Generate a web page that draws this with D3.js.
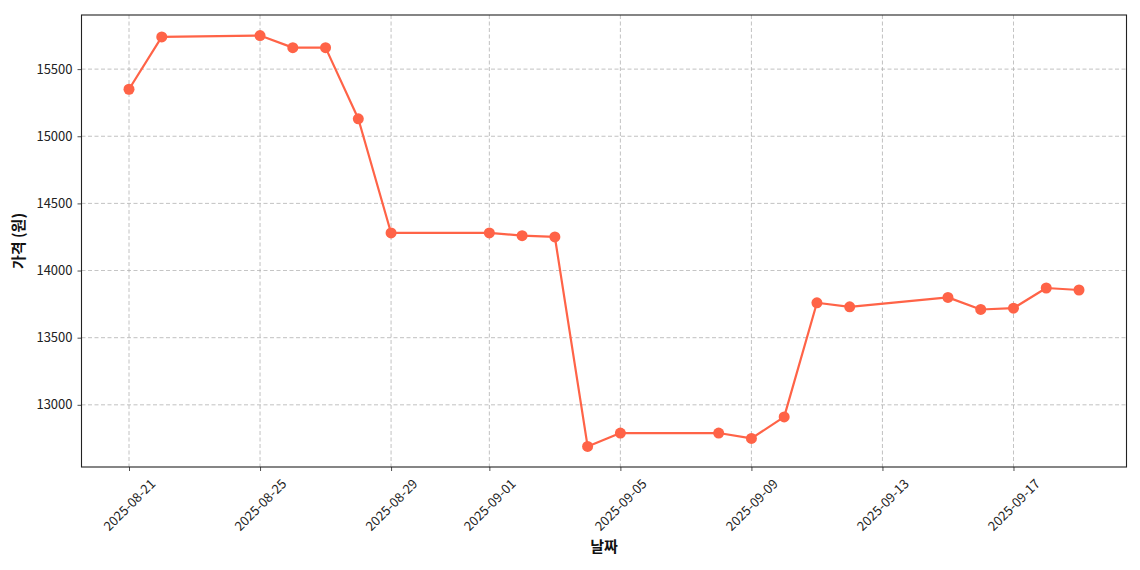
<!DOCTYPE html>
<html><head><meta charset="utf-8">
<script src="https://cdn.jsdelivr.net/npm/d3@7"></script>
<style>body{margin:0;background:#fff;} text{font-family:"Noto Sans CJK KR","Noto Sans",sans-serif;}</style>
</head><body><svg id="c" width="1140" height="570"></svg>
<script>
const dates = ["2025-08-21","2025-08-22","2025-08-25","2025-08-26","2025-08-27","2025-08-28","2025-08-29","2025-09-01","2025-09-02","2025-09-03","2025-09-04","2025-09-05","2025-09-08","2025-09-09","2025-09-10","2025-09-11","2025-09-12","2025-09-15","2025-09-16","2025-09-17","2025-09-18","2025-09-19"];
const prices = [15350,15740,15750,15660,15660,15130,14280,14280,14260,14250,12690,12790,12790,12750,12910,13760,13730,13800,13710,13720,13870,13855];
const xTicks = ["2025-08-21","2025-08-25","2025-08-29","2025-09-01","2025-09-05","2025-09-09","2025-09-13","2025-09-17"];
const yTicks = [13000,13500,14000,14500,15000,15500];
const xLabel = "날짜", yLabel = "가격 (원)";

const parse = d3.utcParse("%Y-%m-%d");
const data = dates.map((d,i)=>({d:parse(d), v:prices[i]}));
const L=81.5,R=1126.5,T=15,B=467;
const svg=d3.select("#c");
const xExt=d3.extent(data,d=>d.d), span=xExt[1]-xExt[0];
const x=d3.scaleUtc().domain([new Date(+xExt[0]-span*0.05), new Date(+xExt[1]+span*0.05)]).range([L,R]);
const yExt=d3.extent(prices), ys=yExt[1]-yExt[0];
const y=d3.scaleLinear().domain([yExt[0]-ys*0.05, yExt[1]+ys*0.05]).range([B,T]);

const g=svg.append("g");
// grid
g.selectAll(".gx").data(xTicks).join("line").attr("x1",d=>x(parse(d))).attr("x2",d=>x(parse(d))).attr("y1",T).attr("y2",B)
 .attr("stroke","#b0b0b0").attr("stroke-width",0.9).attr("stroke-dasharray","4,2.5").attr("opacity",0.85);
g.selectAll(".gy").data(yTicks).join("line").attr("y1",d=>y(d)).attr("y2",d=>y(d)).attr("x1",L).attr("x2",R)
 .attr("stroke","#b0b0b0").attr("stroke-width",0.9).attr("stroke-dasharray","4,2.5").attr("opacity",0.85);

// axes
const xa=svg.append("g").attr("transform",`translate(0,${B})`)
 .call(d3.axisBottom(x).tickValues(xTicks.map(parse)).tickFormat(d3.utcFormat("%Y-%m-%d")).tickSize(4).tickPadding(4).tickSizeOuter(0));
xa.select(".domain").remove();
xa.selectAll("text").attr("font-size",13).attr("fill","#222").attr("text-anchor","middle")
 .attr("y",0).attr("dy","0.35em").attr("transform","translate(0,38) rotate(-45)");
const ya=svg.append("g").attr("transform",`translate(${L},0)`)
 .call(d3.axisLeft(y).tickValues(yTicks).tickFormat(d3.format("d")).tickSize(4).tickPadding(5).tickSizeOuter(0));
ya.select(".domain").remove();
ya.selectAll("text").attr("font-size",13).attr("fill","#222");
svg.selectAll(".tick line").attr("stroke","#222").attr("stroke-width",0.8);

// line
const line=d3.line().x(d=>x(d.d)).y(d=>y(d.v));
svg.append("path").datum(data).attr("d",line).attr("fill","none").attr("stroke","#FF6347").attr("stroke-width",2.2).attr("stroke-linejoin","round");
svg.selectAll(".pt").data(data).join("circle").attr("cx",d=>x(d.d)).attr("cy",d=>y(d.v)).attr("r",5.5).attr("fill","#FF6347");

// frame
svg.append("rect").attr("x",L).attr("y",T).attr("width",R-L).attr("height",B-T).attr("fill","none").attr("stroke","#222").attr("stroke-width",1.1);

svg.append("text").attr("x",(L+R)/2).attr("y",552).attr("text-anchor","middle").attr("font-size",15).attr("font-weight","bold").attr("fill","#111").text(xLabel);
svg.append("text").attr("transform",`translate(24,${(T+B)/2}) rotate(-90)`).attr("text-anchor","middle").attr("font-size",15).attr("font-weight","bold").attr("fill","#111").text(yLabel);
</script></body></html>
